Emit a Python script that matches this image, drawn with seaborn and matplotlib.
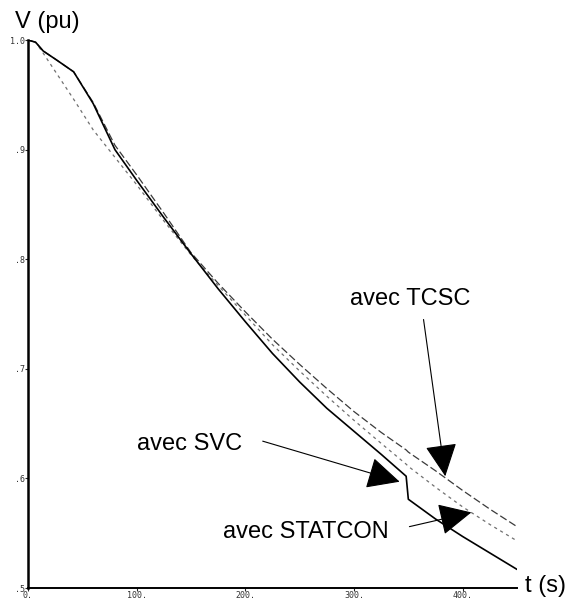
import matplotlib
matplotlib.use('Agg')
import matplotlib.pyplot as plt
import seaborn as sns
import pandas as pd

# temps (s) et tensions (pu)
t = [0, 7, 14, 26, 42, 60, 80, 100, 125, 150, 175, 200, 225, 250, 275,
     300, 325, 348, 350, 375, 400, 425, 450]
v_svc = [1.0, 0.998, 0.99, 0.982, 0.971, 0.942, 0.900, 0.872, 0.838, 0.805,
         0.773, 0.743, 0.714, 0.688, 0.664, 0.643, 0.622, 0.602, 0.581,
         0.563, 0.547, 0.532, 0.517]
v_tcsc = [1.0, 0.998, 0.99, 0.982, 0.971, 0.943, 0.904, 0.877, 0.842, 0.806,
          0.778, 0.752, 0.727, 0.704, 0.682, 0.661, 0.642, 0.626, 0.624,
          0.607, 0.589, 0.572, 0.556]
v_statcon = [1.0, 0.998, 0.988, 0.970, 0.946, 0.918, 0.893, 0.868, 0.835,
             0.804, 0.776, 0.749, 0.722, 0.698, 0.675, 0.653, 0.632, 0.613,
             0.611, 0.592, 0.574, 0.558, 0.543]

x_ticks = [0, 100, 200, 300, 400]
x_labels = ['0.', '100.', '200.', '300.', '400.']
y_ticks = [0.5, 0.6, 0.7, 0.8, 0.9, 1.0]
y_labels = ['.5', '.6', '.7', '.8', '.9', '1.0']

df = pd.DataFrame({'t': t, 'svc': v_svc, 'tcsc': v_tcsc, 'statcon': v_statcon})

sns.set_style('white')
plt.rcParams['font.family'] = ['Liberation Sans', 'DejaVu Sans']
plt.rcParams['text.color'] = 'black'

fig = plt.figure(figsize=(5.69, 6.01), dpi=100)
ax = fig.add_axes([0.0492, 0.0216, 0.8594, 0.9118])

sns.lineplot(data=df, x='t', y='tcsc', ax=ax, color='#3a3a3a', lw=0.9,
             sort=False)
ax.lines[-1].set_dashes((6, 2.5))
sns.lineplot(data=df, x='t', y='statcon', ax=ax, color='#707070', lw=0.9,
             sort=False)
ax.lines[-1].set_dashes((2.5, 3))
sns.lineplot(data=df, x='t', y='svc', ax=ax, color='black', lw=1.2, sort=False)

ax.set_xlim(0, 450)
ax.set_ylim(0.5, 1.0)
ax.set_xlabel('')
ax.set_ylabel('')

for s in ['top', 'right']:
    ax.spines[s].set_visible(False)
ax.spines['left'].set_linewidth(1.8)
ax.spines['bottom'].set_linewidth(1.4)
ax.spines['left'].set_color('black')
ax.spines['bottom'].set_color('black')

ax.set_xticks(x_ticks)
ax.set_xticklabels(x_labels)
ax.set_yticks(y_ticks)
ax.set_yticklabels(y_labels)
ax.tick_params(axis='both', length=2, width=0.8, pad=0.5, labelsize=6,
               labelcolor='#333333', left=True, bottom=True, direction='out')
for lab in ax.get_xticklabels() + ax.get_yticklabels():
    lab.set_family('DejaVu Sans Mono')

fs = 17
ax.text(18, 1.016, 'V (pu)', fontsize=fs, ha='center', va='center', clip_on=False)
ax.text(476, 0.502, 't (s)', fontsize=fs, ha='center', va='center', clip_on=False)

arrow = dict(arrowstyle='-|>,head_length=0.45,head_width=0.22',
             mutation_scale=46, color='black', lw=0.8, shrinkA=0, shrinkB=0)
ax.text(352, 0.764, 'avec TCSC', fontsize=fs, ha='center', va='center')
ax.annotate('', xy=(384, 0.602), xytext=(364, 0.745), arrowprops=arrow)
ax.text(149, 0.631, 'avec SVC', fontsize=fs, ha='center', va='center')
ax.annotate('', xy=(342, 0.597), xytext=(216, 0.634), arrowprops=arrow)
ax.text(256, 0.551, 'avec STATCON', fontsize=fs, ha='center', va='center')
ax.annotate('', xy=(408, 0.569), xytext=(351, 0.556), arrowprops=arrow)

fig.savefig('out.png', dpi=100)
